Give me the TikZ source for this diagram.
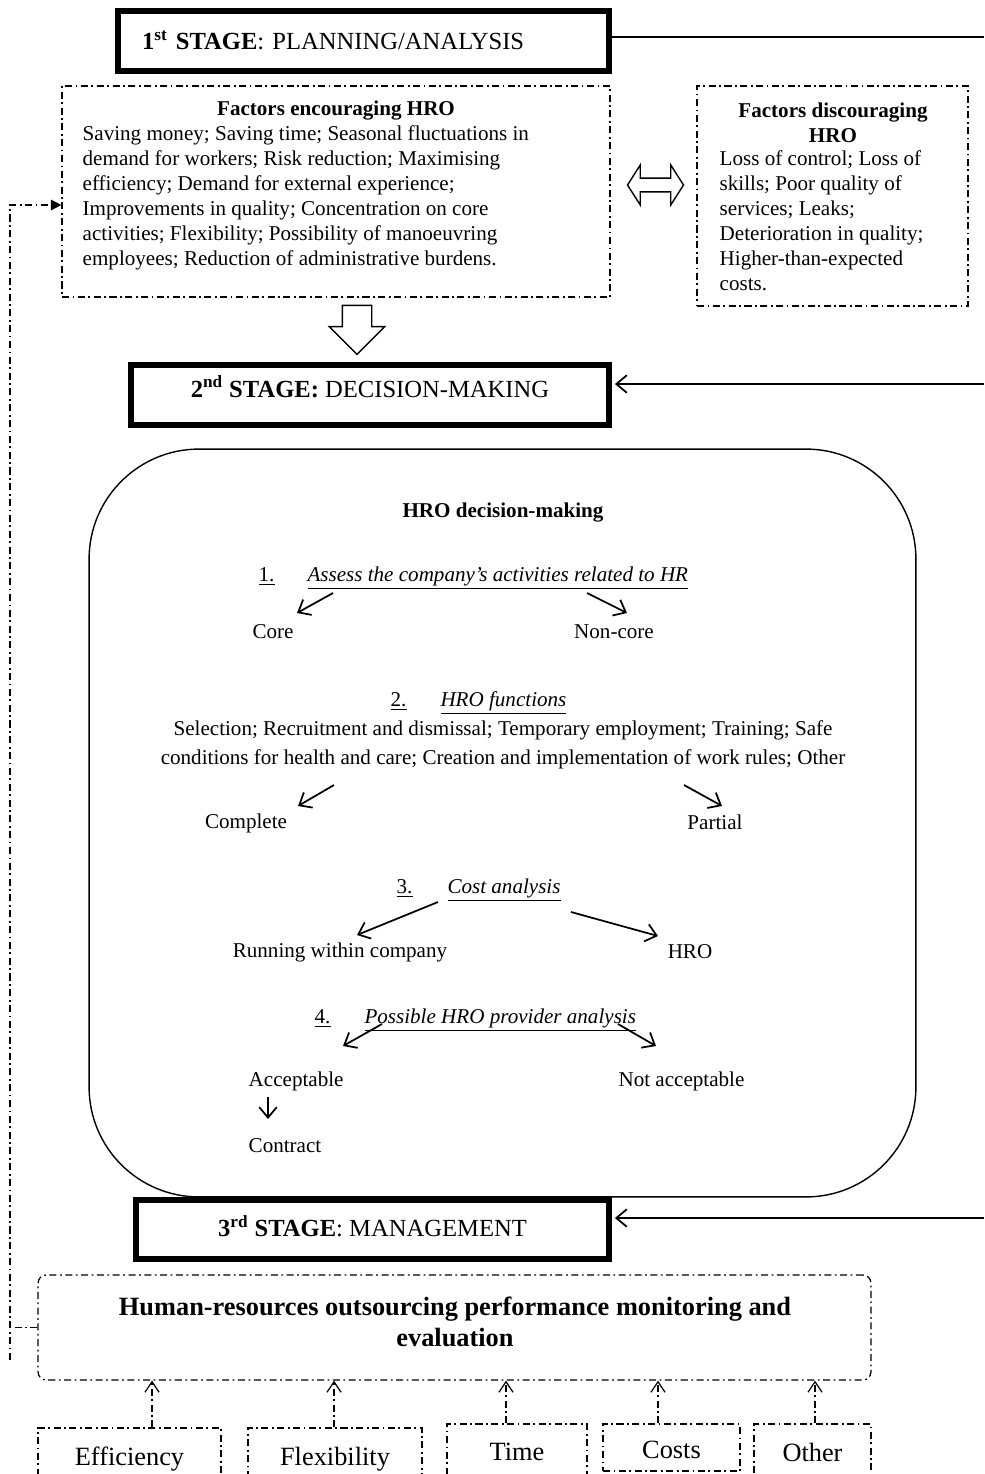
\documentclass[tikz,border=0pt]{standalone}
\usepackage{fontspec}
\setmainfont{Liberation Serif}
\usetikzlibrary{arrows.meta,shapes.arrows,calc}
\tikzset{
  stagebox/.style={draw,line width=3.4pt,fill=white,inner sep=0pt,minimum height=1.2cm,font=\fontsize{14}{16}\selectfont},
  dashdot/.style={dash pattern=on 4pt off 2pt on 1pt off 2pt,line width=0.7pt},
  dashbox/.style={draw,dashdot},
  txt/.style={inner sep=0pt,font=\fontsize{12}{14.2}\selectfont},
  big/.style={inner sep=0pt,font=\fontsize{15}{17.6}\selectfont},
  low/.style={text height=0.5cm,text depth=0.06cm},
  barb/.style={-{Straight Barb[length=6pt,width=10pt]},line width=1pt},
  ubarb/.style={-{Straight Barb[length=6pt,width=8pt]}}
}
\begin{document}
\begin{tikzpicture}[x=0.02cm,y=-0.02cm,line width=0.8pt]
\useasboundingbox (0,0) rectangle (984,1474);
\node[stagebox,text width=8.86cm,inner xsep=0.48cm,align=left] (S1) at (363.5,41) {\raisebox{0.04cm}{\textbf{1\textsuperscript{st} STAGE}: PLANNING/ANALYSIS}};
\node[dashbox,minimum width=10.96cm,minimum height=4.22cm] (FE) at (336,191.5) {};
\node[txt,font=\fontsize{12}{14.2}\selectfont\bfseries] (FEt) at (336,111) {Factors encouraging HRO};
\node[txt,anchor=north west,align=left] (FEb) at (82,125) {Saving money; Saving time; Seasonal fluctuations in\\demand for workers; Risk reduction; Maximising\\efficiency; Demand for external experience;\\Improvements in quality; Concentration on core\\activities; Flexibility; Possibility of manoeuvring\\employees; Reduction of administrative burdens.};
\node[dashbox,minimum width=5.42cm,minimum height=4.4cm] (FD) at (832.5,196) {};
\node[txt,font=\fontsize{12}{14.2}\selectfont\bfseries,align=center] (FDt) at (833,122.5) {Factors discouraging\\HRO};
\node[txt,anchor=north west,align=left] (FDb) at (719,150) {Loss of control; Loss of\\skills; Poor quality of\\services; Leaks;\\Deterioration in quality;\\Higher-than-expected\\costs.};
\node[double arrow,draw,inner xsep=0pt,inner ysep=0.095cm,minimum height=1.12cm,minimum width=0.8cm,double arrow head extend=0.21cm,double arrow tip angle=115] (DA) at (655.5,185) {};
\node[single arrow,draw,inner xsep=0.28cm,inner ysep=0pt,shape border rotate=270,minimum height=0.98cm,minimum width=1.08cm,single arrow head extend=0.26cm] (DW) at (357,322.5) {};
\node[stagebox,minimum width=9.56cm] (S2) at (370,395) {\raisebox{0.34cm}{\textbf{2\textsuperscript{nd} STAGE:} DECISION-MAKING}};
\node[draw,rounded corners=2.2cm,minimum width=16.54cm,minimum height=14.96cm] (DM) at (502.5,823) {};
\node[txt,font=\fontsize{12}{14.2}\selectfont\bfseries] (DMt) at (503,513) {HRO decision-making};
\node[txt,anchor=west] (T1) at (258,578) {\underline{1.}\hspace{0.66cm}\underline{\textit{Assess the company's activities related to HR}}};
\node[txt] (Core) at (273,632) {Core};
\node[txt] (NonCore) at (614,632) {Non-core};
\node[txt,anchor=west] (T2) at (390,703) {\underline{2.}\hspace{0.68cm}\underline{\textit{HRO functions}}};
\node[txt,align=center,font=\fontsize{12}{16.4}\selectfont] (Func) at (503,744.5) {Selection; Recruitment and dismissal; Temporary employment; Training; Safe\\conditions for health and care; Creation and implementation of work rules; Other};
\node[txt] (Complete) at (246,823) {Complete};
\node[txt] (Partial) at (715,822) {Partial};
\node[txt,anchor=west] (T3) at (396,890) {\underline{3.}\hspace{0.7cm}\underline{\textit{Cost analysis}}};
\node[txt] (Running) at (340,952) {Running within company};
\node[txt] (HRO) at (690,952) {HRO};
\node[txt,anchor=west] (T4) at (314,1020) {\underline{4.}\hspace{0.68cm}\underline{\textit{Possible HRO provider analysis}}};
\node[txt,anchor=west] (Acc) at (248,1081) {Acceptable};
\node[txt] (NotAcc) at (681.5,1081) {Not acceptable};
\node[txt,anchor=west] (Contract) at (248,1146) {Contract};
\draw[barb] ($(T1.west)+(75,15)$) -- ($(Core)+(24,-19)$);
\draw[barb] ($(T1.west)+(329,15)$) -- ($(NonCore)+(13,-19)$);
\draw[barb] ($(Func)+(-169,40.5)$) -- ($(Complete)+(52,-17)$);
\draw[barb] ($(Func)+(181,40.5)$) -- ($(Partial)+(7,-16)$);
\draw[barb] ($(T3.west)+(42,12)$) -- ($(Running)+(17,-17)$);
\draw[barb] ($(T3.west)+(175,22)$) -- ($(HRO)+(-32,-16)$);
\draw[barb] ($(T4.west)+(68,4)$) -- ($(Acc.west)+(95,-35)$);
\draw[barb] ($(T4.west)+(304,4)$) -- ($(NotAcc)+(-25.5,-35)$);
\draw[barb] ($(Acc.west)+(20,16)$) -- ($(Contract.west)+(20,-27)$);
\node[stagebox,minimum width=9.46cm,minimum height=1.18cm] (S3) at (372.5,1229.5) {\raisebox{0.14cm}{\textbf{3\textsuperscript{rd} STAGE}: MANAGEMENT}};
\coordinate (R) at (984,0);
\coordinate (S1r) at ([yshift=0.08cm]S1.east);
\coordinate (S2r) at ([xshift=0.06cm,yshift=0.22cm]S2.east);
\coordinate (S3r) at ([xshift=0.06cm,yshift=0.23cm]S3.east);
\draw[line width=1pt] (S1r) -- (S1r -| R);
\draw[barb] (S2r -| R) -- (S2r);
\draw[barb] (S3r -| R) -- (S3r);
\node[dashbox,rounded corners=0.16cm,minimum width=16.66cm,minimum height=2.1cm] (MO) at (454.5,1327.5) {};
\node[big,align=center,font=\fontsize{15}{17.6}\selectfont\bfseries] (MOt) at (455,1322) {Human-resources outsourcing performance monitoring and\\evaluation};
\node[dashbox,big,low,minimum width=3.66cm,minimum height=1.04cm] (EF) at (129.5,1454) {Efficiency};
\node[dashbox,big,low,minimum width=3.48cm,minimum height=1.04cm] (FL) at (335,1454) {Flexibility};
\node[dashbox,big,minimum width=2.8cm,minimum height=1.12cm] (TI) at (517,1452) {Time};
\node[dashbox,big,low,minimum width=2.74cm,minimum height=0.94cm] (CO) at (671.5,1447.5) {Costs};
\node[dashbox,big,minimum width=2.34cm,minimum height=1.12cm] (OT) at (812.5,1452) {Other};
\coordinate (e1) at ($(EF.north)+(22.5,0)$);
\coordinate (e2) at ($(FL.north)+(-1,0)$);
\coordinate (e3) at ($(TI.north)+(-11,0)$);
\coordinate (e4) at ($(CO.north)+(-13.5,0)$);
\coordinate (e5) at ($(OT.north)+(2.5,0)$);
\draw[dashdot,ubarb] (e1) -- (e1 |- MO.south);
\draw[dashdot,ubarb] (e2) -- (e2 |- MO.south);
\draw[dashdot,ubarb] (e3) -- (e3 |- MO.south);
\draw[dashdot,ubarb] (e4) -- (e4 |- MO.south);
\draw[dashdot,ubarb] (e5) -- (e5 |- MO.south);
\coordinate (L) at (10,1360);
\coordinate (FEa) at ([yshift=-0.27cm]FE.west);
\draw[dashdot] (MO.west) -- (MO.west -| L);
\draw[dashdot,-{Triangle[length=6pt,width=6pt]}] (L) -- (L |- FEa) -- (FEa);
\end{tikzpicture}
\end{document}
